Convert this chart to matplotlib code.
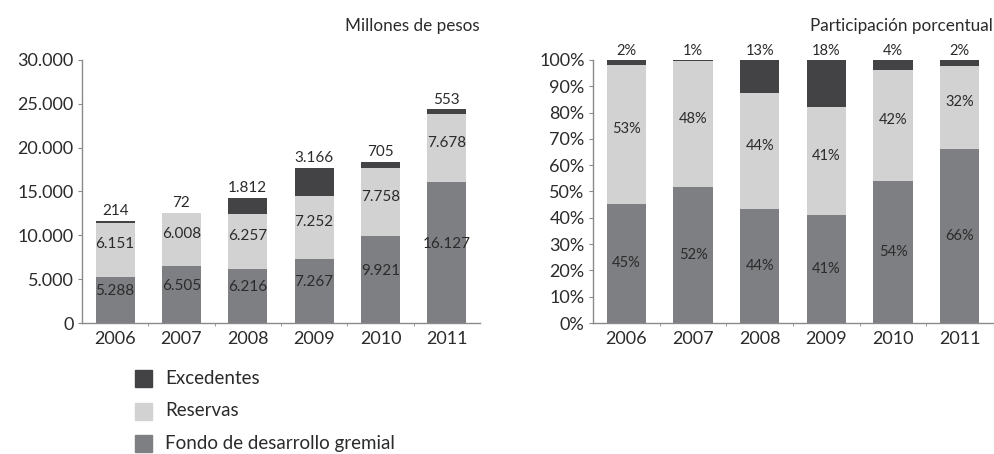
import numpy as np
import matplotlib
matplotlib.use("Agg")
import matplotlib.pyplot as plt
from matplotlib.patches import Rectangle

plt.rcParams['font.family'] = ['Lato', 'DejaVu Sans']

# DATA
years = ['2006', '2007', '2008', '2009', '2010', '2011']
fondo = [5288, 6505, 6216, 7267, 9921, 16127]
reservas = [6151, 6008, 6257, 7252, 7758, 7678]
excedentes = [214, 72, 1812, 3166, 705, 553]
series_names = ['Excedentes', 'Reservas', 'Fondo de desarrollo gremial']

# STYLE
C_EXC = '#434345'
C_RES = '#d2d2d3'
C_FON = '#7e7f83'
TXT = '#2b2b2b'
SPINE = '#8a8a8a'
W = 0.59

fondo = np.array(fondo, float)
reservas = np.array(reservas, float)
excedentes = np.array(excedentes, float)
total = fondo + reservas + excedentes
x = np.arange(len(years))


def fmt(v):
    return f'{int(round(v)):,}'.replace(',', '.')


def style_axes(ax):
    for s in ['top', 'right']:
        ax.spines[s].set_visible(False)
    for s in ['left', 'bottom']:
        ax.spines[s].set_color(SPINE)
        ax.spines[s].set_linewidth(1.0)
    ax.set_xlim(-0.5, len(years) - 0.5)
    ax.set_xticks(x)
    ax.set_xticklabels(years)
    ax.set_xticks(np.arange(0.5, len(years) - 1, 1), minor=True)
    ax.tick_params(axis='x', which='major', length=0, pad=6, labelsize=13,
                   labelcolor=TXT, width=0)
    ax.tick_params(axis='x', which='minor', length=2, color=SPINE)
    ax.tick_params(axis='y', length=3, color=SPINE, labelsize=13,
                   labelcolor=TXT, pad=3)


fig = plt.figure(figsize=(9.95, 4.54), dpi=100)

# LEFT: millones de pesos
ax1 = fig.add_axes([0.0824, 0.2885, 0.400, 0.5795])
ax1.bar(x, fondo, W, color=C_FON)
ax1.bar(x, reservas, W, bottom=fondo, color=C_RES)
ax1.bar(x, excedentes, W, bottom=fondo + reservas, color=C_EXC)
ax1.set_ylim(0, 30000)
ax1.set_yticks(np.arange(0, 30001, 5000))
ax1.set_yticklabels([fmt(v) for v in np.arange(0, 30001, 5000)])
style_axes(ax1)
for i in range(len(years)):
    ax1.text(x[i], fondo[i] / 2 + 1000, fmt(fondo[i]), ha='center', va='center',
             fontsize=11, color=TXT)
    ax1.text(x[i], fondo[i] + reservas[i] / 2 + 600, fmt(reservas[i]), ha='center',
             va='center', fontsize=11, color=TXT)
    ax1.text(x[i], total[i] + 1100, fmt(excedentes[i]), ha='center', va='center',
             fontsize=11, color=TXT)
fig.text(0.482, 0.942, 'Millones de pesos', ha='right', va='center',
         fontsize=12.3, color=TXT)

# RIGHT: participacion porcentual
p_fon = fondo / total * 100
p_res = reservas / total * 100
p_exc = excedentes / total * 100
ax2 = fig.add_axes([0.596, 0.2885, 0.402, 0.5795])
ax2.bar(x, p_fon, W, color=C_FON)
ax2.bar(x, p_res, W, bottom=p_fon, color=C_RES)
ax2.bar(x, p_exc, W, bottom=p_fon + p_res, color=C_EXC)
ax2.set_ylim(0, 100)
ax2.set_yticks(np.arange(0, 101, 10))
ax2.set_yticklabels([f'{v}%' for v in range(0, 101, 10)])
style_axes(ax2)
for i in range(len(years)):
    ax2.text(x[i], p_fon[i] / 2, f'{p_fon[i]:.0f}%', ha='center', va='center',
             fontsize=10.5, color=TXT)
    ax2.text(x[i], p_fon[i] + p_res[i] / 2 + 2, f'{p_res[i]:.0f}%', ha='center',
             va='center', fontsize=10.5, color=TXT)
    ax2.text(x[i], 103.5, f'{p_exc[i]:.0f}%', ha='center', va='center',
             fontsize=10.5, color=TXT, clip_on=False)
fig.text(0.998, 0.942, 'Participación porcentual', ha='right', va='center',
         fontsize=12.3, color=TXT)

# LEGEND
leg_colors = [C_EXC, C_RES, C_FON]
leg_y = [1 - 378 / 454, 1 - 411 / 454, 1 - 443 / 454]
for name, col, yy in zip(series_names, leg_colors, leg_y):
    fig.patches.append(Rectangle((135 / 995, yy - 8.5 / 454), 17 / 995, 17 / 454,
                                 transform=fig.transFigure, color=col))
    fig.text(165 / 995, yy, name, ha='left', va='center', fontsize=13.5,
             color=TXT)

fig.savefig('out.png', dpi=100)
